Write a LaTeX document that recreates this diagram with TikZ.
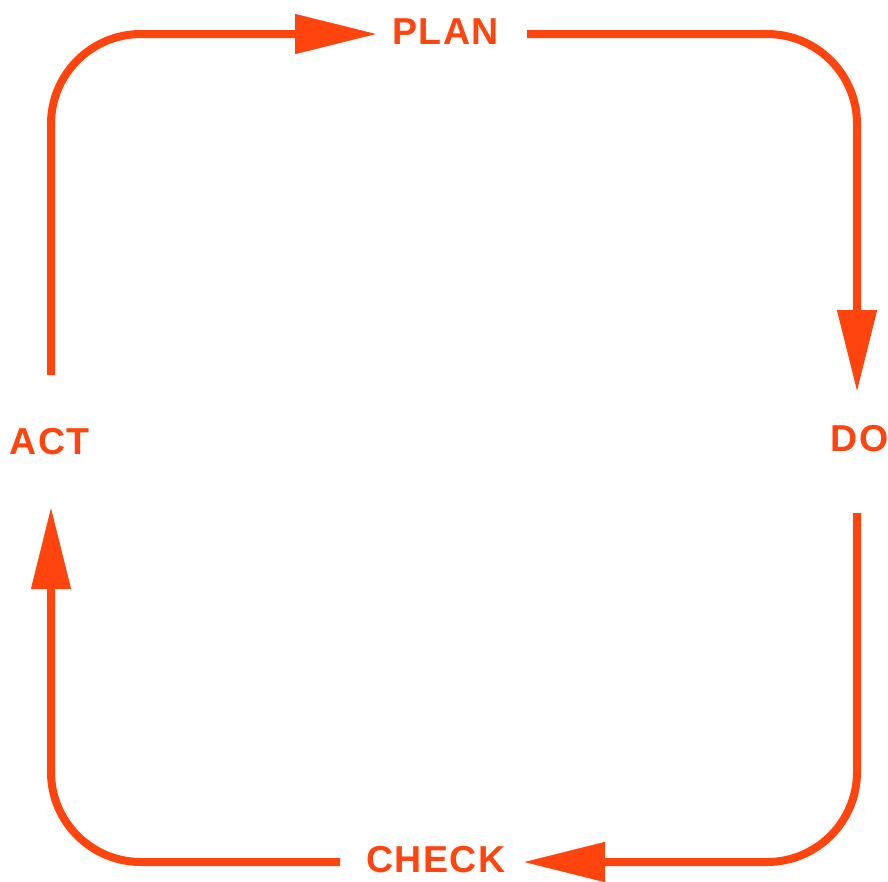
\documentclass[tikz,border=0pt]{standalone}
\usepackage{fontspec}
\setmainfont{Liberation Sans}
\usetikzlibrary{arrows.meta}
\definecolor{pdcared}{RGB}{255,68,14}

\begin{document}
\begin{tikzpicture}[x=1pt,y=-1pt,
    label/.style={inner sep=0pt,text=pdcared,
      font=\fontsize{37.5}{40}\selectfont\bfseries\addfontfeature{LetterSpace=4}},
    flow/.style={draw=pdcared,line width=8pt,rounded corners=90pt,
      -{Triangle[length=82pt,width=38pt]}}]
  \useasboundingbox (0,0) rectangle (888,881);
  % stage labels
  \node[label] (plan)  at (445.5,31.5) {PLAN};
  \node[label] (do)    at (859.5,439)  {DO};
  \node[label] (check) at (436,860)    {CHECK};
  \node[label] (act)   at (49.5,442)   {ACT};
  % where the loop leaves and reaches each label
  \coordinate (act-out)   at (51,375);
  \coordinate (plan-in)   at (377,34);
  \coordinate (plan-out)  at (527,34);
  \coordinate (do-in)     at (857,392);
  \coordinate (do-out)    at (857,513);
  \coordinate (check-in)  at (523,862);
  \coordinate (check-out) at (340,862);
  \coordinate (act-in)    at (51,507);
  % the cycle
  \draw[flow] (act-out) |- (plan-in);
  \draw[flow] (plan-out) -| (do-in);
  \draw[flow] (do-out) |- (check-in);
  \draw[flow] (check-out) -| (act-in);
\end{tikzpicture}
\end{document}
